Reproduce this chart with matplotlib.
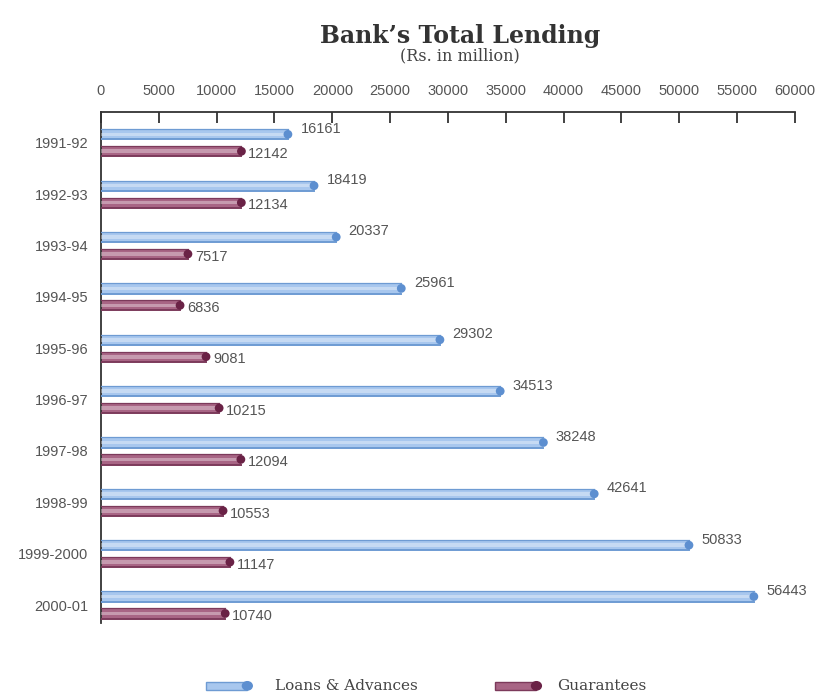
import matplotlib.pyplot as plt
from matplotlib.patches import Rectangle

years = ["1991-92", "1992-93", "1993-94", "1994-95", "1995-96",
         "1996-97", "1997-98", "1998-99", "1999-2000", "2000-01"]
loans = [16161, 18419, 20337, 25961, 29302, 34513, 38248, 42641, 50833, 56443]
guarantees = [12142, 12134, 7517, 6836, 9081, 10215, 12094, 10553, 11147, 10740]

blue = ("#a8c7ee", "#6e9bd3", "#5d8fd0")
plum = ("#a86585", "#7c3a5b", "#6a2246")
grey = "#555555"

fig = plt.figure(figsize=(8.19, 6.97), dpi=100)
ax = fig.add_axes([0.1233, 0.1062, 0.8474, 0.7331])

pos = list(range(len(years)))
h = 0.2
off = 0.165


def tube(y, vals, cols):
    # flat bar with darker rim lines and a round cap at the end
    ax.barh(y, vals, height=h, color=cols[0], edgecolor="none", zorder=2)
    ax.barh(y, vals, height=h * 0.35, color="white", alpha=0.35,
            edgecolor="none", zorder=3)
    for yy, v in zip(y, vals):
        ax.plot([0, v], [yy - h / 2, yy - h / 2], color=cols[1], lw=0.9, zorder=3)
        ax.plot([0, v], [yy + h / 2, yy + h / 2], color=cols[1], lw=1.4, zorder=3)
    ax.scatter(vals, y, s=40, color=cols[2], zorder=4, edgecolors="none")


y_loans = [p - off for p in pos]
y_guar = [p + off for p in pos]
tube(y_loans, loans, blue)
tube(y_guar, guarantees, plum)

for yy, v in zip(y_loans, loans):
    ax.annotate(str(v), (v, yy), xytext=(9, 4), textcoords="offset points",
                ha="left", va="center", fontsize=10.5, color=grey,
                family="Liberation Sans")
for yy, v in zip(y_guar, guarantees):
    ax.annotate(str(v), (v, yy), xytext=(5, -2), textcoords="offset points",
                ha="left", va="center", fontsize=10.5, color=grey,
                family="Liberation Sans")

ax.set_xlim(0, 60000)
ax.set_ylim(9.35, -0.6)
ax.set_yticks(pos)
ax.set_yticklabels(years, family="Liberation Sans", fontsize=10.5, color=grey)
ax.set_xticks(range(0, 60001, 5000))
ax.set_xticklabels([str(t) for t in range(0, 60001, 5000)],
                   family="Liberation Sans", fontsize=10.5, color=grey)
ax.xaxis.tick_top()
ax.tick_params(axis="x", direction="in", length=8, width=1.3, color="#333333",
               pad=10)
ax.tick_params(axis="y", length=0, pad=9)
for s in ["right", "bottom"]:
    ax.spines[s].set_visible(False)
for s in ["top", "left"]:
    ax.spines[s].set_color("#333333")
    ax.spines[s].set_linewidth(1.3)

fig.text(0.562, 0.948, "Bank\u2019s Total Lending", ha="center", va="center",
         fontsize=17, fontweight="bold", color="#333333", family="DejaVu Serif")
fig.text(0.562, 0.920, "(Rs. in million)", ha="center", va="center",
         fontsize=11.5, color="#444444", family="DejaVu Serif")

# legend drawn in figure coordinates
for x0, tx, cols, label in [(0.252, 0.336, blue, "Loans & Advances"),
                            (0.605, 0.680, plum, "Guarantees")]:
    fig.patches.append(Rectangle((x0, 0.010), 0.05, 0.012, transform=fig.transFigure,
                                 facecolor=cols[0], edgecolor=cols[1], lw=1))
    fig.patches.append(plt.Circle((x0 + 0.05, 0.016), 0.006, transform=fig.transFigure,
                                  color=cols[2]))
    fig.text(tx, 0.016, label, ha="left", va="center", fontsize=11,
             color="#444444", family="DejaVu Serif")

fig.savefig("out.png", dpi=100, facecolor="white")
